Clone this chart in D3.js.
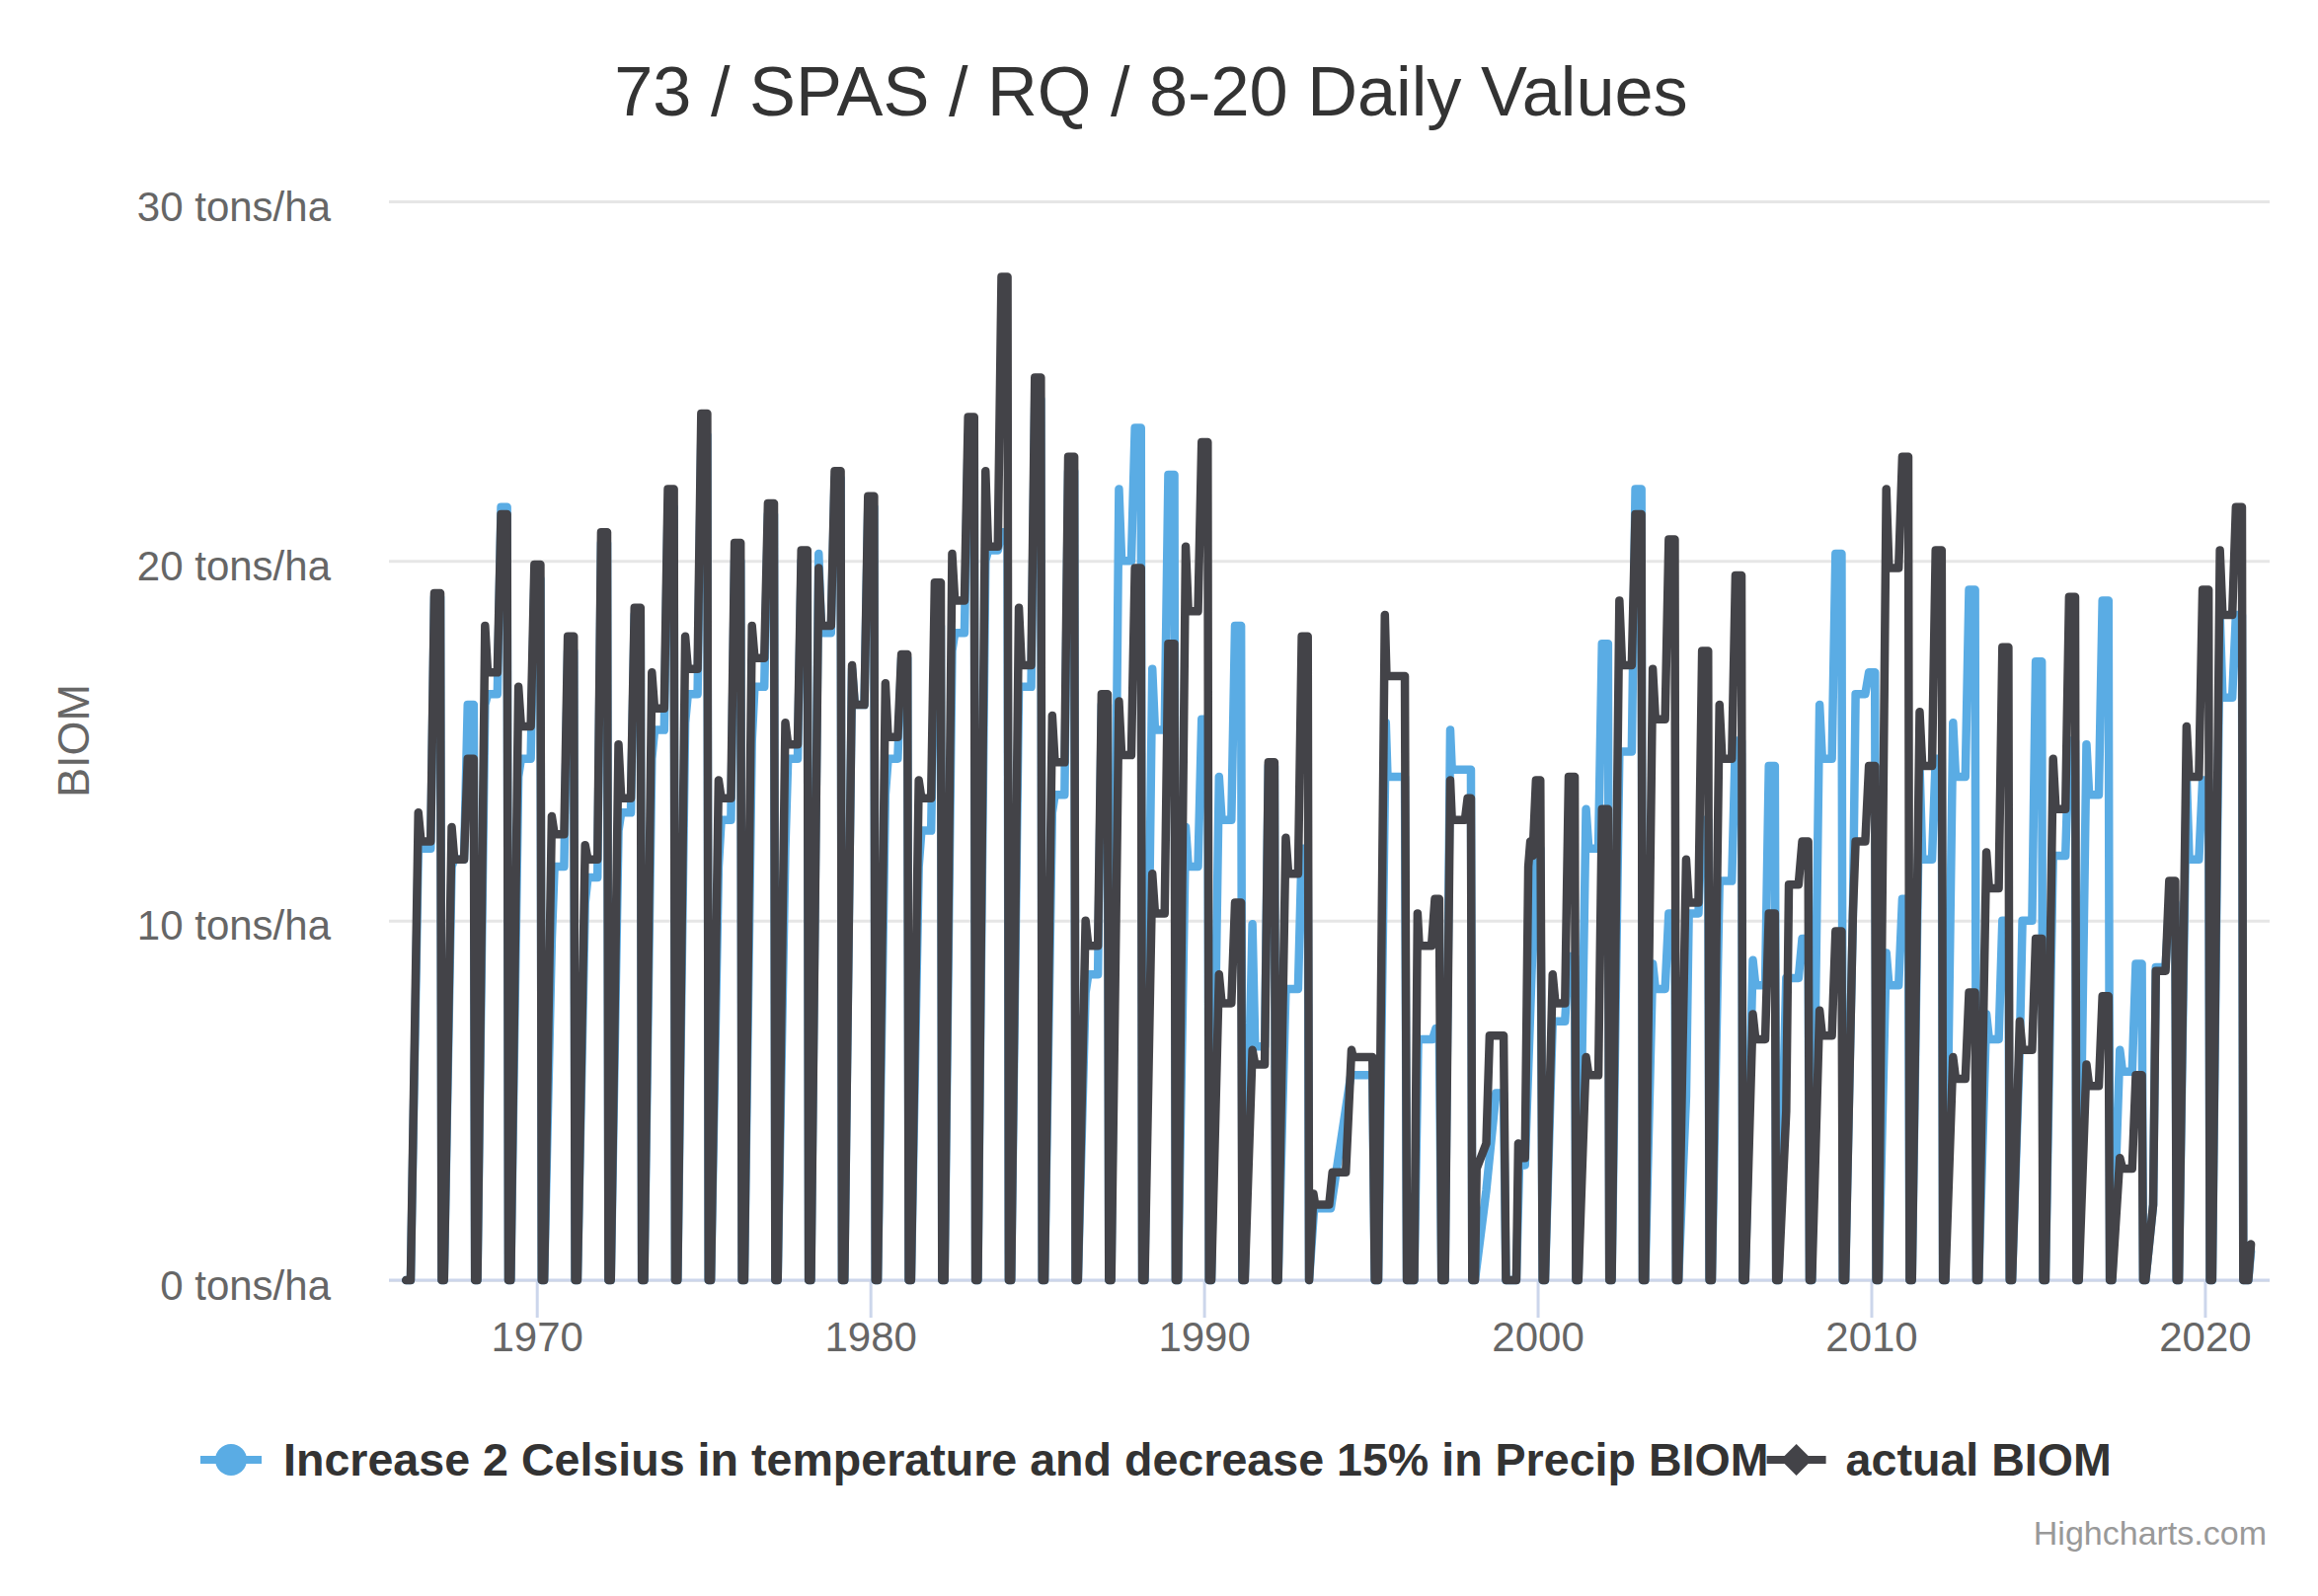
<!DOCTYPE html>
<html>
<head>
<meta charset="utf-8">
<script src="https://cdn.jsdelivr.net/npm/d3@7"></script>
<style>
  html, body { margin: 0; padding: 0; background: #ffffff; }
  svg { display: block; font-family: "Liberation Sans", Arial, Helvetica, sans-serif; }
</style>
</head>
<body>
<svg id="chart" width="2348" height="1617"></svg>
<script>
// ---------------- DATA ----------------
const chartTitle = "73 / SPAS / RQ / 8-20 Daily Values";
const yAxisTitle = "BIOM";
const yTickValues = [0, 10, 20, 30];
const yTickUnit = " tons/ha";
const xTickValues = [1970, 1980, 1990, 2000, 2010, 2020];
const seriesNames = ["Increase 2 Celsius in temperature and decrease 15% in Precip BIOM", "actual BIOM"];

// Regular seasonal cycles: harvest year, value at first step, plateau value, season peak
const harvestYears = [1967,1968,1969,1970,1971,1972,1973,1974,1975,1976,1977,1978,1979,1980,1981,1982,1983,1984,1985,1986,1987,1988,1989,1990,1991,1992,1993,
                      2001,2002,2003,2004,2005,2006,2007,2008,2009,2010,2011,2012,2013,2014,2015,2016,2017,2018,2019,2020,2021];
const actualStep    = [13.0,12.6,18.2,16.5,12.9,12.1,14.9,16.9,17.9,13.9,18.2,15.5,19.8,17.1,16.6,13.9,20.2,22.5,18.7,15.7,10.0,16.1,11.3,20.4,8.5,6.4,12.3,
                       8.5,6.2,18.9,17.0,11.7,16.0,7.4,4.7,7.5,10.2,22.0,15.8,6.2,11.9,7.2,14.5,6.0,3.4,2.1,15.4,20.3];
const actualPlateau = [12.2,11.7,16.9,15.4,12.4,11.7,13.4,15.9,17.0,13.4,17.3,14.9,18.2,16.0,15.1,13.4,18.9,20.4,17.1,14.4,9.3,14.6,10.2,18.6,7.7,6.0,11.3,
                       7.7,5.7,17.1,15.6,10.5,14.5,6.7,11.0,6.8,12.2,19.8,14.3,5.6,10.9,6.4,13.1,5.4,3.1,8.6,14.0,18.5];
const actualPeak    = [19.1,14.5,21.3,19.9,17.9,20.8,18.7,22.0,24.1,20.5,21.6,20.3,22.5,21.8,17.4,19.4,24.0,27.9,25.1,22.9,16.3,19.8,17.7,23.3,10.5,14.4,17.9,
                       14.0,13.1,21.3,20.6,17.5,19.6,10.2,12.2,9.7,14.3,22.9,20.3,8.0,17.6,9.5,19.0,7.9,5.7,11.1,19.2,21.5];
const scenarioStep    = [12.0,11.5,16.0,14.0,9.5,10.5,12.5,14.5,15.5,11.5,15.0,12.0,20.2,17.0,13.5,11.5,17.5,20.0,16.5,13.0,8.0,22.0,17.0,12.6,14.0,9.9,8.1,
                         7.2,13.1,14.7,8.8,5.1,11.1,8.9,8.4,16.0,10.2,9.1,14.3,15.5,7.4,6.5,11.8,14.9,6.4,2.1,14.0,18.5];
const scenarioPlateau = [12.0,11.7,16.3,14.5,11.5,11.2,13.0,15.3,16.3,12.8,16.5,14.5,18.0,16.0,14.5,12.5,18.0,20.3,16.5,13.5,8.5,20.0,15.3,11.5,12.8,6.5,8.1,
                         7.2,12.0,14.7,8.1,10.2,11.1,8.2,8.4,14.5,16.3,8.2,11.7,14.0,6.7,10.0,11.8,13.5,5.8,8.7,11.7,16.2];
const scenarioPeak    = [19.0,16.0,21.5,19.5,17.5,20.5,18.5,21.5,23.5,20.0,21.3,20.0,22.3,21.5,17.3,18.2,23.5,20.8,24.5,22.5,16.0,23.7,22.4,15.6,18.2,14.3,12.0,
                         9.0,17.7,22.0,10.2,12.8,15.0,14.3,9.5,20.2,16.9,10.6,14.5,19.2,10.0,17.2,15.0,18.9,8.8,10.5,13.9,18.5];

// Irregular stretch 1993-2000 (dates as decimal years, values in tons/ha)
const interludeDatesActual = [1993.28,1993.33,1993.75,1993.85,1994.25,1994.42,1994.47,1995.05,1995.12,1995.22,1995.42,1995.47,1996.02,1996.08,1996.30,1996.40,1996.45,1996.82,1996.92,1997.05,1997.12,1997.22,1997.38,1997.43,1997.82,1997.90,1998.00,1998.04,1998.12,1998.17,1998.46,1998.56,1998.98,1999.05,1999.36,1999.42,1999.47,1999.62,1999.72,1999.78,1999.85,1999.95,2000.08,2000.15];
const interludeActual      = [2.4,2.1,2.1,3.0,3.0,6.4,6.2,6.2,0,0,18.5,16.8,16.8,0,0,10.2,9.3,9.3,10.6,10.6,0,0,13.9,12.8,12.8,13.4,13.4,0,0,3.1,3.8,6.8,6.8,0,0,3.8,3.4,3.4,11.5,12.2,11.8,13.9,13.9,0];
const interludeDatesScenario = [1993.30,1993.80,1994.40,1994.47,1995.05,1995.12,1995.22,1995.45,1995.50,1996.02,1996.08,1996.30,1996.42,1996.85,1996.95,1997.05,1997.12,1997.22,1997.38,1997.43,1998.00,1998.04,1998.12,1998.46,1998.75,1998.98,1999.05,1999.36,1999.45,1999.62,1999.95,2000.08,2000.15];
const interludeScenario      = [2.0,2.0,5.7,5.7,5.7,0,0,15.5,14.0,14.0,0,0,6.7,6.7,7.0,7.0,0,0,15.3,14.2,14.2,0,0,2.5,5.2,5.2,0,0,3.2,3.2,12.0,12.0,0];

// Series start / end
const seriesStart = [1966.08, 0];
const tailDates = [2021.30, 2021.38];
const tailActual = [0, 1.0];
const tailScenario = [0, 0.8];

// Timing of a season relative to its harvest date (years)
const harvestLag = 0.15;
const seasonOffsets = [-0.93, -0.70, -0.62, -0.33, -0.22, -0.04, 0];

// ---------------- BUILD ----------------
function buildSeries(step, plat, peak, iDates, iVals, tailVals) {
  const pts = [seriesStart.slice()];
  harvestYears.forEach((yr, i) => {
    const H = yr + harvestLag;
    const vals = [0, step[i], plat[i], plat[i], peak[i], peak[i], 0];
    seasonOffsets.forEach((o, k) => pts.push([H + o, vals[k]]));
  });
  iDates.forEach((d, i) => pts.push([d, iVals[i]]));
  tailDates.forEach((d, i) => pts.push([d, tailVals[i]]));
  pts.sort((a, b) => a[0] - b[0]);
  return pts;
}
const actualSeries = buildSeries(actualStep, actualPlateau, actualPeak, interludeDatesActual, interludeActual, tailActual);
const scenarioSeries = buildSeries(scenarioStep, scenarioPlateau, scenarioPeak, interludeDatesScenario, interludeScenario, tailScenario);

// ---------------- DRAW ----------------
const svg = d3.select("#chart");
const W = 2348, H = 1617;
const plot = { left: 394, right: 2299, top: 204, bottom: 1297 };
const colors = { scenario: "#5aace4", actual: "#434348" };
const seriesWidth = 8.5;

const x = d3.scaleLinear().domain([1965.57, 2021.94]).range([plot.left, plot.right]);
const y = d3.scaleLinear().domain([0, 30]).range([plot.bottom, plot.top]);

svg.append("rect").attr("width", W).attr("height", H).attr("fill", "#ffffff");

// Title
svg.append("text")
  .attr("x", 1166).attr("y", 117)
  .attr("text-anchor", "middle")
  .attr("font-size", 70.3)
  .attr("fill", "#333333")
  .text(chartTitle);

// Grid lines
const grid = svg.append("g").attr("transform", `translate(${plot.left},0)`)
  .call(d3.axisLeft(y).tickValues(yTickValues).tickSize(-(plot.right - plot.left)).tickFormat(""));
grid.select(".domain").remove();
grid.selectAll(".tick line").attr("stroke", "#e6e6e6").attr("stroke-width", 3);

// Y axis labels
const yAxis = svg.append("g").attr("transform", `translate(${plot.left},0)`)
  .call(d3.axisLeft(y).tickValues(yTickValues).tickSize(0).tickPadding(59).tickFormat(d => d + yTickUnit));
yAxis.select(".domain").remove();
yAxis.selectAll(".tick text")
  .attr("font-size", 42).attr("fill", "#666666")
  .attr("font-family", "'Liberation Sans', Arial, sans-serif")
  .attr("dy", 19).attr("y", 0);

// Y axis title
svg.append("text")
  .attr("transform", `translate(90, ${(plot.top + plot.bottom) / 2}) rotate(-90)`)
  .attr("text-anchor", "middle")
  .attr("font-size", 45).attr("fill", "#666666")
  .text(yAxisTitle);

// X axis
const xAxis = svg.append("g").attr("transform", `translate(0,${plot.bottom})`)
  .call(d3.axisBottom(x).tickValues(xTickValues).tickSize(38).tickPadding(0).tickFormat(d3.format("d")));
xAxis.select(".domain").attr("stroke", "#ccd6eb").attr("stroke-width", 3)
  .attr("d", `M${plot.left},0H${plot.right}`);
xAxis.selectAll(".tick line").attr("stroke", "#ccd6eb").attr("stroke-width", 3);
xAxis.selectAll(".tick text")
  .attr("font-size", 42).attr("fill", "#666666")
  .attr("font-family", "'Liberation Sans', Arial, sans-serif")
  .attr("y", 72).attr("dy", 0);

// Lines
const line = d3.line().x(d => x(d[0])).y(d => y(d[1])).curve(d3.curveLinear);
svg.append("path").datum(scenarioSeries)
  .attr("d", line).attr("fill", "none")
  .attr("stroke", colors.scenario).attr("stroke-width", seriesWidth)
  .attr("stroke-linejoin", "round").attr("stroke-linecap", "round");
svg.append("path").datum(actualSeries)
  .attr("d", line).attr("fill", "none")
  .attr("stroke", colors.actual).attr("stroke-width", seriesWidth)
  .attr("stroke-linejoin", "round").attr("stroke-linecap", "round");

// Legend
const legY = 1479;
const leg = svg.append("g");
leg.append("line").attr("x1", 203).attr("x2", 265).attr("y1", legY).attr("y2", legY)
  .attr("stroke", colors.scenario).attr("stroke-width", 8);
leg.append("circle").attr("cx", 234).attr("cy", legY).attr("r", 16).attr("fill", colors.scenario);
const t1 = leg.append("text").attr("x", 287).attr("y", 1495)
  .attr("font-size", 46.6).attr("font-weight", "bold").attr("fill", "#333333")
  .text(seriesNames[0]);
const t1End = 287 + t1.node().getComputedTextLength();
const s2 = t1End - 2;
leg.append("line").attr("x1", s2).attr("x2", s2 + 60).attr("y1", legY).attr("y2", legY)
  .attr("stroke", colors.actual).attr("stroke-width", 8);
leg.append("path")
  .attr("d", `M${s2 + 30},${legY - 16}L${s2 + 46},${legY}L${s2 + 30},${legY + 16}L${s2 + 14},${legY}Z`)
  .attr("fill", colors.actual);
leg.append("text").attr("x", s2 + 80).attr("y", 1495)
  .attr("font-size", 46.6).attr("font-weight", "bold").attr("fill", "#333333")
  .text(seriesNames[1]);

// Credits
svg.append("text")
  .attr("x", 2296).attr("y", 1565)
  .attr("text-anchor", "end")
  .attr("font-size", 34).attr("fill", "#999999")
  .text("Highcharts.com");
</script>
</body>
</html>
